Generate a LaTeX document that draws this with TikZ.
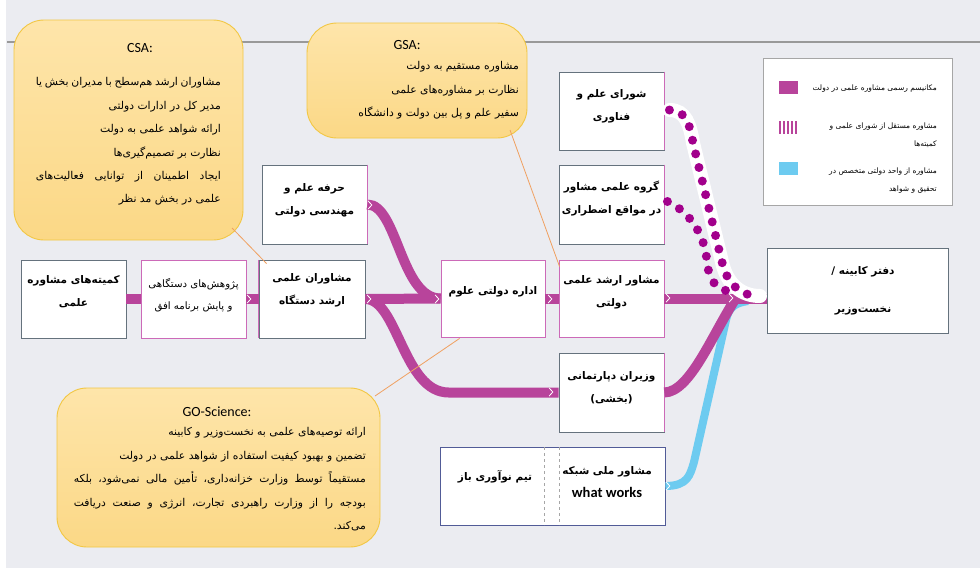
\documentclass[tikz,border=0pt]{standalone}
\usepackage{fontspec}
\setmainfont{DejaVu Sans}
\newfontfamily\fa[Script=Arabic]{DejaVu Sans}
\newfontfamily\lat{Carlito}
\TeXXeTstate=1
\newcommand\rl[1]{\beginR#1\endR}
\usetikzlibrary{calc}
\definecolor{bg}{HTML}{EBECF1}
\definecolor{mag}{HTML}{B8449B}
\definecolor{dotc}{HTML}{A2008C}
\definecolor{sky}{HTML}{6DCBF0}
\definecolor{bgrey}{HTML}{65727D}
\definecolor{pinkb}{HTML}{CC6AB8}
\definecolor{ctop}{HTML}{FEE5AA}
\definecolor{cbot}{HTML}{FBD886}
\definecolor{cborder}{HTML}{F2C744}
\definecolor{pointer}{HTML}{F0A060}
\begin{document}
\begin{tikzpicture}[x=1pt,y=-1pt,
  box/.style={draw=bgrey, line width=0.9pt, fill=white, inner sep=0pt, minimum width=105pt, minimum height=78pt},
  pbox/.style={box, draw=pinkb},
  pinkside/.style={draw=pinkb, line width=0.9pt},
  lbl/.style={font=\fa\bfseries\fontsize{10.5}{23}\selectfont, align=center, inner sep=0pt},
  lblr/.style={font=\fa\fontsize{10.2}{22}\selectfont, align=center, inner sep=0pt},
  callout/.style={draw=cborder, line width=0.9pt, rounded corners=30pt, top color=ctop, bottom color=cbot, inner sep=0pt},
  ctext/.style={font=\fa\fontsize{10.8}{23.4}\selectfont, align=right, inner sep=0pt, anchor=north east},
  ctitle/.style={font=\lat\fontsize{14}{16}\selectfont, inner sep=0pt},
  magline/.style={draw=mag, line width=10pt},
  skyline/.style={draw=sky, line width=8pt},
  halo/.style={draw=white, line width=14pt, line cap=round},
  dotline/.style={draw=dotc, line width=9pt, line cap=round, dash pattern=on 0pt off 14pt},
  ptr/.style={draw=pointer, line width=0.8pt},
  legtext/.style={font=\fa\fontsize{7.5}{18}\selectfont, align=right, inner sep=0pt, anchor=east},
  chev/.pic={\draw[white, line width=0.8pt] (-1.8,-4) -- (1.8,0) -- (-1.8,4);}
]
\useasboundingbox (0,0) rectangle (980,568);
\fill[white] (0,0) rectangle (980,568);
\fill[bg] (6,0) rectangle (980,568);
\draw[draw=gray!80, line width=1.4pt] (7,42) -- (980,42);

% legend
\node[draw=gray!70, line width=0.8pt, fill=white, minimum width=189pt, minimum height=147pt, inner sep=0pt] (leg) at (857.5,131.5) {};
\fill[mag] (779,81) rectangle (798,94);
\foreach \i in {0,...,4} {\fill[mag] ({779+\i*4},121) rectangle +(2.2,13);}
\fill[sky] (779,162) rectangle (798,175);
\node[legtext] (l1) at (937,89) {\rl{مکانیسم رسمی مشاوره علمی در دولت}};
\node[legtext] (l2) at (937,135) {\rl{مشاوره مستقل از شورای علمی و}\\\rl{کمیته‌ها}};
\node[legtext] (l3) at (937,181) {\rl{مشاوره از واحد دولتی متخصص در}\\\rl{تحقیق و شواهد}};

% boxes
\node[box] (b1) at (73.5,299) {};
\node[pbox] (b2) at (193.5,299) {};
\node[box, minimum width=106pt] (b3) at (312,299) {};
\node[box, minimum height=79pt] (hf) at (314.5,204.5) {};
\node[pbox, minimum width=104pt, minimum height=77pt] (ed) at (493,298.5) {};
\node[pbox, minimum height=77pt] (ms) at (611.5,298.5) {};
\node[box, minimum height=79pt] (gr) at (611.5,204.5) {};
\node[box] (sh) at (611.5,111) {};
\node[box, minimum height=79pt] (vz) at (611.5,392.5) {};
\node[box, draw=bgrey!80!blue, minimum width=225pt] (wd) at (552.5,486) {};
\node[box, minimum width=181pt, minimum height=85pt] (cab) at (857.5,290.5) {};
\draw[pinkside] (b3.north west) -- (b3.south west);
\draw[pinkside] (hf.north east) -- (hf.south east);
\draw[pinkside] (gr.north east) -- (gr.south east);
\draw[pinkside] (sh.north east) -- (sh.south east);
\draw[pinkside] (vz.north east) -- (vz.south east);
\draw[gray!70, dashed, line width=0.6pt] (544,447) -- (544,525);
\draw[gray!70, dashed, line width=0.6pt] (559,447) -- (559,525);

% connectors
\draw[magline] (b1.east) -- (b2.west);
\draw[magline] (b2.east) -- (b3.west);
\draw[magline] (b3.east) -- (ed.west);
\draw[magline] (hf.east) .. controls +(30,0) and ($(ed.west)+(-40,0)$) .. (ed.west);
\draw[magline] (b3.east) .. controls +(32,0) and ($(vz.west)+(-155,0)$) .. ($(vz.west)+(-110,0)$) -- (vz.west);
\draw[magline] (ed.east) -- (ms.west);
\draw[skyline] (wd.east) .. controls (688,486) and (690,475) .. (694,462) -- (726,320) .. controls (729,307) and (735,303) .. (748,301);
\draw[magline] (ms.east) -- (ms.east -| cab.west);
\draw[magline] (vz.east) .. controls (690,392) and (712,335) .. (736,298);
\draw[halo] ($(sh.east)+(5,-1)$) .. controls (686,110) and (690,125) .. (693,143) -- (722,262) .. controls (727,285) and (742,296) .. (760,296);
\draw[dotline] ($(sh.east)+(5,-1)$) .. controls (686,110) and (690,125) .. (693,143) -- (722,262) .. controls (727,285) and (742,296) .. ($(cab.west)+(-8,5.5)$);
\draw[dotline] ($(gr.east)+(3,-3)$) .. controls (690,212) and (705,235) .. (707,262) .. controls (709,280) and (716,289) .. (728,291);

\foreach \p in {(249,299),(369,299),(437,299),(550,299),(668,298),(731,298),(370,205),(551,392),(668,486)} {\pic at \p {chev};}

% labels
\node[lbl] (t1) at (73.5,292) {\rl{کمیته‌های مشاوره}\\\rl{علمی}};
\node[lblr] (t2) at (193.5,295) {\rl{پژوهش‌های دستگاهی}\\\rl{و پایش برنامه افق}};
\node[lbl] (t3) at (312,290) {\rl{مشاوران علمی}\\\rl{ارشد دستگاه}};
\node[lbl] (thf) at (314.5,200) {\rl{حرفه علم و}\\\rl{مهندسی دولتی}};
\node[lbl] (ted) at (493,292) {\rl{اداره دولتی علوم}};
\node[lbl] (tms) at (611.5,292.5) {\rl{مشاور ارشد علمی}\\\rl{دولتی}};
\node[lbl] (tgr) at (611.5,199) {\rl{گروه علمی مشاور}\\\rl{در مواقع اضطراری}};
\node[lbl] (tsh) at (611.5,106) {\rl{شورای علم و}\\\rl{فناوری}};
\node[lbl] (tvz) at (611.5,387.5) {\rl{وزیران دپارتمانی}\\\rl{(بخشی)}};
\node[lbl] (twd1) at (495,477) {\rl{تیم نوآوری باز}};
\node[lbl] (twd2) at (607,482) {\rl{مشاور ملی شبکه}\\{\lat\bfseries\fontsize{14.5}{23}\selectfont what works}};
\node[lbl, font=\fa\bfseries\fontsize{10.5}{38}\selectfont] (tcab) at (863,291) {\rl{دفتر کابینه /}\\\rl{نخست‌وزیر}};

% callouts
\node[callout, minimum width=229pt, minimum height=220pt] (csa) at (128.5,130) {};
\node[callout, minimum width=220pt, minimum height=115pt] (gsa) at (417,80.5) {};
\node[callout, minimum width=323pt, minimum height=159pt] (gos) at (218.5,467.5) {};
\draw[ptr] (232,228) -- ($(b3.north west)+(8,4)$);
\draw[ptr] (510,130) -- ($(ms.north west)+(1,7)$);
\draw[ptr] (375,396) -- ($(ed.south west)+(19,1)$);

\node[ctitle] (csat) at (140,48) {CSA:};
\node[ctext] (csab) at (221,77.5) {\hbox to 185pt{\beginR مشاوران ارشد هم‌سطح با مدیران بخش یا\endR}\\\rl{مدیر کل در ادارات دولتی}\\\rl{ارائه شواهد علمی به دولت}\\\rl{نظارت بر تصمیم‌گیری‌ها}\\\hbox to 185pt{\beginR ایجاد اطمینان از توانایی فعالیت‌های\endR}\\\rl{علمی در بخش مد نظر}};
\node[ctitle] (gsat) at (407,45) {GSA:};
\node[ctext] (gsab) at (519,61.5) {\rl{مشاوره مستقیم به دولت}\\\rl{نظارت بر مشاوره‌های علمی}\\\rl{سفیر علم و پل بین دولت و دانشگاه}};
\node[ctitle] (gost) at (217,412) {GO-Science:};
\node[ctext] (gosb) at (366,427.5) {\rl{ارائه توصیه‌های علمی به نخست‌وزیر و کابینه}\\\rl{تضمین و بهبود کیفیت استفاده از شواهد علمی در دولت}\\\hbox to 292pt{\beginR مستقیماً توسط وزارت خزانه‌داری، تأمین مالی نمی‌شود، بلکه\endR}\\\hbox to 292pt{\beginR بودجه را از وزارت راهبردی تجارت، انرژی و صنعت دریافت\endR}\\\rl{می‌کند.}};
\end{tikzpicture}
\end{document}
